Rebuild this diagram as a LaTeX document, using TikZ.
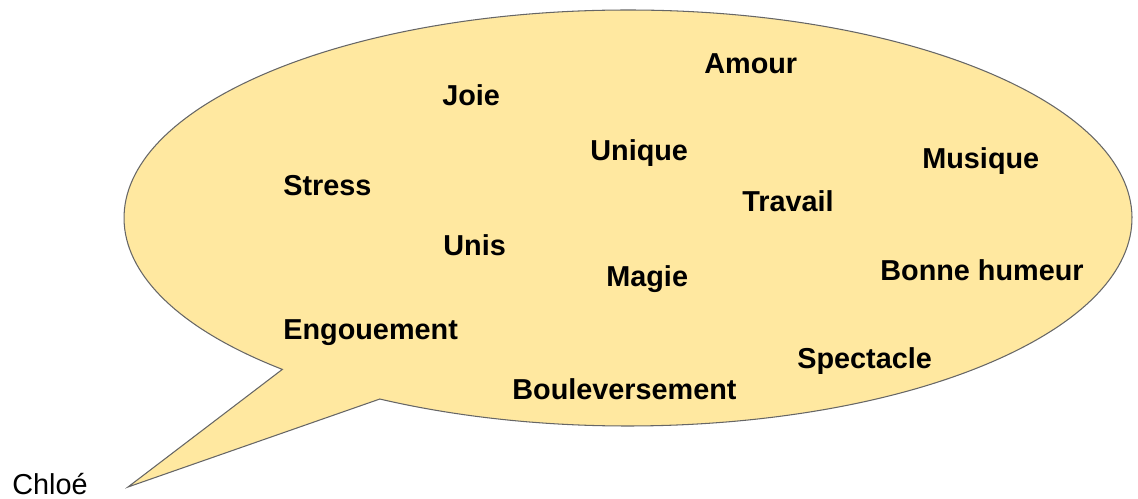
\documentclass[tikz,border=0pt]{standalone}
\usepackage{fontspec}
\setmainfont{Liberation Sans}
\usetikzlibrary{calc}
\definecolor{color_bubble_fill}{HTML}{FFE8A0}
\definecolor{color_bubble_line}{HTML}{666666}
\def\wordsize{\fontsize{16.4}{19}\selectfont}
\tikzset{
    word/.style={font=\wordsize\bfseries, anchor=base west, inner sep=0},
    speaker/.style={font=\wordsize, anchor=base west, inner sep=0},
    bubble/.style={fill=color_bubble_fill, draw=color_bubble_line, line width=0.6pt, line join=miter}
}

\begin{document}
\begin{tikzpicture}[x=0.02cm, y=-0.02cm]
        \useasboundingbox (0,0) rectangle (1138,499);
            % the speech bubble with its tail
            \coordinate (centre) at (628,218);
            \coordinate (tip) at (128,487);
            \draw[bubble] (centre) ++(133.3:504 and 208)
                arc[start angle=133.3, end angle=479.5, x radius=504, y radius=208]
                -- (tip) -- cycle;
            % the words
            \node[word] (amour) at (704,74) {Amour};
            \node[word] (joie) at (442,106) {Joie};
            \node[word] (unique) at (590,161) {Unique};
            \node[word] (musique) at (922,169) {Musique};
            \node[word] (stress) at (283,196) {Stress};
            \node[word] (travail) at (742,212) {Travail};
            \node[word] (unis) at (443,256) {Unis};
            \node[word] (magie) at (606,287) {Magie};
            \node[word] (humeur) at (880,281) {Bonne humeur};
            \node[word] (engouement) at (283,340) {Engouement};
            \node[word] (spectacle) at (797,369) {Spectacle};
            \node[word] (boulev) at (512,399) {Bouleversement};
            % who speaks
            \node[speaker] (chloe) at (12,494) {Chloé};
    \end{tikzpicture}
\end{document}
